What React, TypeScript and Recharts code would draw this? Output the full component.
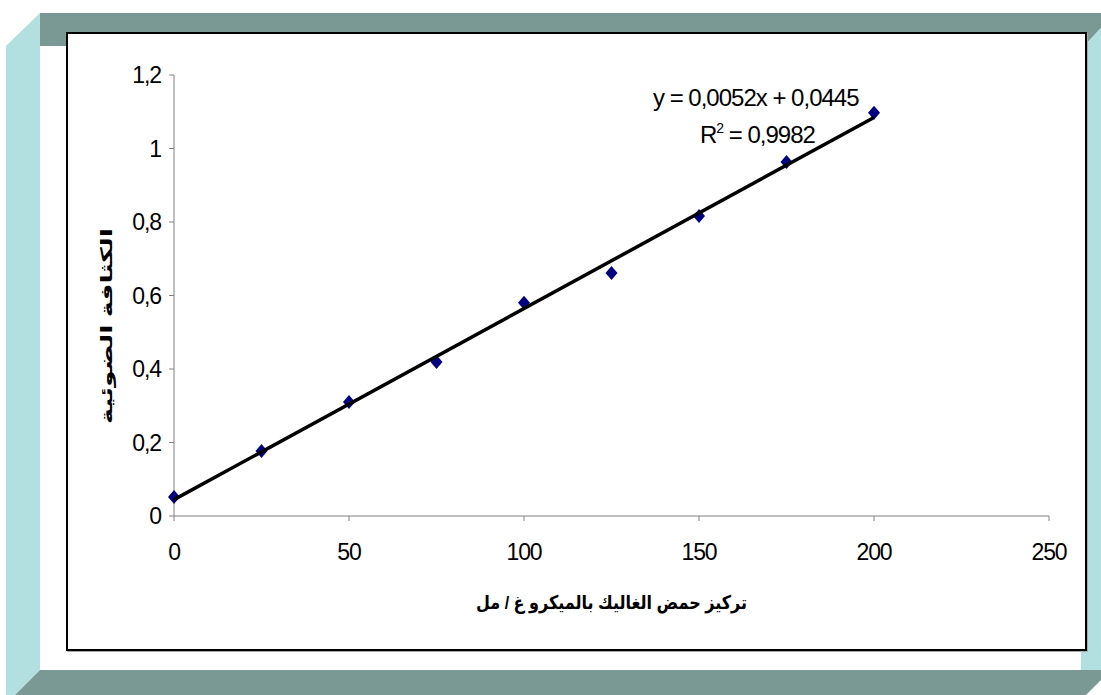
import { ComposedChart, Scatter, XAxis, YAxis, Label } from 'recharts';

// concentration (µg/ml) and absorbance
const concentrations = [0, 25, 50, 75, 100, 125, 150, 175, 200];
const absorbance = [0.052, 0.177, 0.31, 0.419, 0.58, 0.661, 0.816, 0.963, 1.097];

// trendline ends (y = 0,0052x + 0,0445)
const trendX = [0, 200];
const trendY = [0.0445, 1.0845];

const xTicks = [0, 50, 100, 150, 200, 250];
const yTicks = [0, 0.2, 0.4, 0.6, 0.8, 1, 1.2];

const xTitle = 'تركيز حمض الغاليك بالميكرو  غ / مل';
const yTitle = 'الكثافة الضوئية';
const equation = 'y = 0,0052x + 0,0445';
const rSquared = '0,9982';

const FONT = "'Liberation Sans', Arial, 'DejaVu Sans', sans-serif";
const GRAY = '#7a9995';
const CYAN = '#b2e0e0';

const points = concentrations.map((x, i) => ({ x, y: absorbance[i] }));
const trend = trendX.map((x, i) => ({ x, y: trendY[i] }));

const Diamond = (props: any) => {
  const { cx, cy } = props;
  if (cx == null || cy == null) return <g />;
  return (
    <polygon
      points={`${cx},${cy - 7} ${cx + 6},${cy} ${cx},${cy + 7} ${cx - 6},${cy}`}
      fill="#000080"
    />
  );
};

const fmt = (v: number) => String(v).replace('.', ',');

const tickStyle = { fill: '#000', fontSize: 23, fontFamily: FONT, letterSpacing: -1.1 };

const App = () => {
  return (
    <div style={{ position: 'absolute', left: 0, top: 0, width: 1101, height: 695, background: '#fff', fontFamily: FONT }}>
      {/* frame */}
      <svg width={1101} height={695} style={{ position: 'absolute', left: 0, top: 0 }}>
        <polygon points="6,46 40,13 40,670 15,695 6,695" fill={CYAN} />
        <polygon points="40,13 1101,13 1101,28 1084,46 40,46" fill={GRAY} />
        <polygon points="1081,46 1084,46 1101,28 1101,670 1081,670" fill={CYAN} />
        <polygon points="40,670 1101,670 1101,680 1086,695 15,695" fill={GRAY} />
      </svg>
      <div
        style={{
          position: 'absolute',
          left: 66,
          top: 32,
          width: 1017,
          height: 615,
          border: '2px solid #000',
          background: '#fff',
          boxShadow: '1px 1px 0 #aaa',
        }}
      />
      <div style={{ position: 'absolute', left: 0, top: 0 }}>
        <ComposedChart width={1101} height={695} margin={{ top: 75, right: 52, bottom: 139, left: 114 }}>
          <XAxis
            type="number"
            dataKey="x"
            domain={[0, 250]}
            ticks={xTicks}
            tickSize={5}
            tickMargin={23}
            stroke="#808080"
            tick={tickStyle}
            height={40}
          >
            <Label
              content={(p: any) => {
                const vb = p.viewBox;
                return (
                  <text
                    x={vb.x + vb.width / 2}
                    y={602}
                    textAnchor="middle"
                    dominantBaseline="central"
                    fontWeight="bold"
                    fontSize={19}
                    fontFamily={FONT}
                    fill="#000"
                    textLength={271}
                    lengthAdjust="spacingAndGlyphs"
                  >
                    {xTitle}
                  </text>
                );
              }}
            />
          </XAxis>
          <YAxis
            type="number"
            dataKey="y"
            domain={[0, 1.2]}
            ticks={yTicks}
            tickSize={5}
            tickMargin={8}
            tickFormatter={fmt}
            stroke="#808080"
            tick={tickStyle}
            width={60}
          >
            <Label
              content={() => (
                <text
                  x={106}
                  y={326}
                  transform="rotate(-90 106 326)"
                  textAnchor="middle"
                  dominantBaseline="central"
                  fontWeight="bold"
                  fontSize={16}
                  fontFamily={FONT}
                  fill="#000"
                  textLength={196}
                  lengthAdjust="spacingAndGlyphs"
                >
                  {yTitle}
                </text>
              )}
            />
          </YAxis>
          <Scatter data={points} shape={<Diamond />} isAnimationActive={false} />
          <Scatter
            data={trend}
            line={{ stroke: '#000', strokeWidth: 3.5 }}
            shape={() => <g />}
            isAnimationActive={false}
          />
        </ComposedChart>
      </div>
      <div style={{ position: 'absolute', left: 653, top: 85, fontSize: 24, lineHeight: '26px', whiteSpace: 'nowrap', letterSpacing: -1 }}>
        {equation}
      </div>
      <div style={{ position: 'absolute', left: 700, top: 122, fontSize: 24, lineHeight: '26px', whiteSpace: 'nowrap', letterSpacing: -1 }}>
        R<span style={{ fontSize: 14, position: 'relative', top: -10 }}>2</span> = {rSquared}
      </div>
    </div>
  );
};

export default App;
